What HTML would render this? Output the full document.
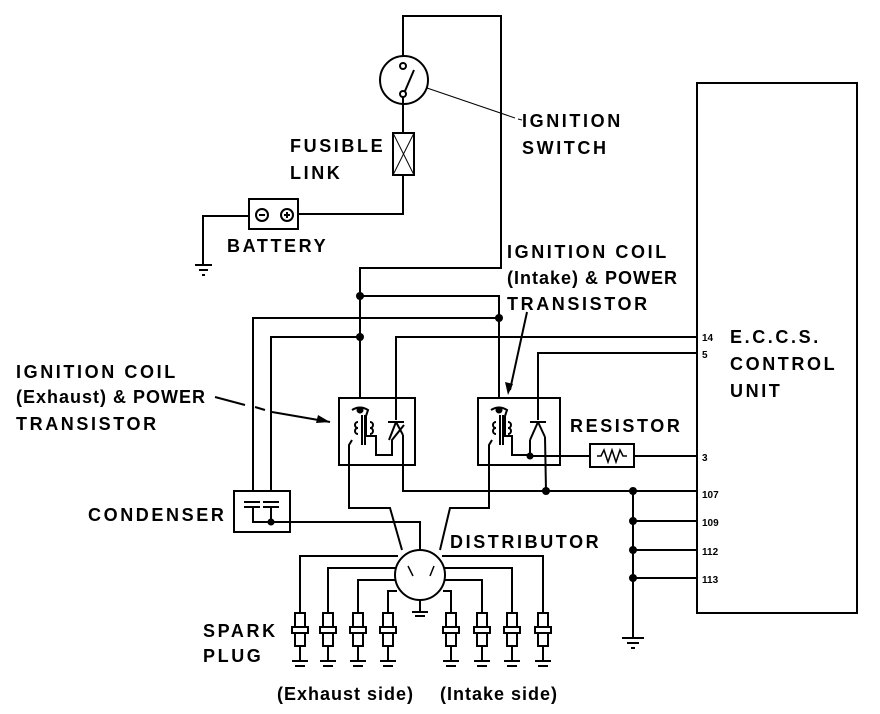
<!DOCTYPE html>
<html><head><meta charset="utf-8"><style>
html,body{margin:0;padding:0;background:#fff;}
svg{display:block}
text{font-family:"Liberation Sans",sans-serif;font-weight:bold;fill:#000;}
.l{font-size:18px;letter-spacing:2.6px}
.m{font-size:18px;letter-spacing:1px}
.s{font-size:10px}
</style></head><body>
<svg width="880" height="714" viewBox="0 0 880 714" xmlns="http://www.w3.org/2000/svg">
<defs>
<g id="p"><rect x="-5" y="0" width="10" height="14"/><rect x="-8" y="14" width="16" height="6"/><rect x="-5" y="20" width="10" height="13"/><polyline points="0,33 0,48"/><line x1="-8" y1="48" x2="8" y2="48"/><line x1="-5" y1="53" x2="5" y2="53"/></g>
</defs>
<g stroke="#000" stroke-width="2" fill="none">
<polyline points="403,56 403,16 501,16 501,268 360,268 360,398"/>
<circle cx="404" cy="80" r="24"/>
<circle cx="403" cy="66" r="3"/><circle cx="403" cy="94" r="3"/>
<line x1="405" y1="91" x2="414" y2="70"/>
<line x1="403" y1="97" x2="403" y2="133"/>
<rect x="393" y="133" width="21" height="42"/>
<line x1="393" y1="133" x2="414" y2="175" stroke-width="1"/><line x1="414" y1="133" x2="393" y2="175" stroke-width="1"/>
<polyline points="403,175 403,214 298,214"/>
<rect x="249" y="199" width="49" height="30"/>
<circle cx="262" cy="215" r="6"/><circle cx="287" cy="215" r="6"/>
<line x1="259" y1="215" x2="265" y2="215"/><line x1="284" y1="215" x2="290" y2="215"/><line x1="287" y1="212" x2="287" y2="218"/>
<polyline points="249,216 203,216 203,265"/>
<line x1="195" y1="265" x2="212" y2="265"/><line x1="199" y1="270" x2="208" y2="270"/><line x1="202" y1="275" x2="205" y2="275"/>
<line x1="427" y1="88" x2="515" y2="118" stroke-width="1"/><line x1="518" y1="119" x2="522" y2="120" stroke-width="1"/>
<polyline points="360,296 499,296 499,398"/>
<polyline points="253,490 253,318 499,318"/>
<polyline points="271,490 271,337 360,337"/>
<polyline points="396,420 396,337 697,337"/>
<polyline points="538,420 538,353 697,353"/>
<rect x="339" y="398" width="76" height="67"/>
<rect x="478" y="398" width="82" height="67"/>
<path d="M352,410 Q360,405 368,410 L366,416 L366,436 L376,436 L376,455 L392,455 L392,440 L404,425"/>
<line x1="362" y1="415" x2="362" y2="445"/><line x1="365" y1="415" x2="365" y2="445"/>
<path d="M358,422 a3,3 0 1,0 0,6 a3,3 0 1,0 0,6" /><path d="M370,422 a3,3 0 1,1 0,6 a3,3 0 1,1 0,6"/>
<line x1="388" y1="422" x2="404" y2="422"/><line x1="396" y1="422" x2="389" y2="440"/><line x1="396" y1="422" x2="403" y2="435"/>
<polyline points="403,435 403,491 697,491"/>
<polyline points="352,440 349,445 349,508 390,508 402,550"/>
<path d="M491,410 Q499,405 507,410 L505,416 L505,436 L512,436 L512,455 L530,455"/>
<line x1="500" y1="415" x2="500" y2="445"/><line x1="503" y1="415" x2="503" y2="445"/>
<path d="M496,422 a3,3 0 1,0 0,6 a3,3 0 1,0 0,6"/><path d="M508,422 a3,3 0 1,1 0,6 a3,3 0 1,1 0,6"/>
<line x1="530" y1="422" x2="546" y2="422"/><line x1="538" y1="422" x2="530" y2="440"/><line x1="538" y1="422" x2="545" y2="437"/>
<polyline points="530,440 530,456 590,456"/>
<polyline points="545,437 546,491"/>
<polyline points="492,440 489,445 489,508 450,508 440,550"/>
<rect x="590" y="444" width="44" height="23"/>
<polyline points="597,456 601,456 604,450 608,462 612,450 616,462 620,450 623,456 627,456" stroke-width="1.5"/>
<line x1="634" y1="456" x2="697" y2="456"/>
<polyline points="633,491 633,638"/>
<line x1="633" y1="521" x2="697" y2="521"/><line x1="633" y1="550" x2="697" y2="550"/><line x1="633" y1="578" x2="697" y2="578"/>
<line x1="622" y1="638" x2="644" y2="638"/><line x1="627" y1="643" x2="639" y2="643"/><line x1="631" y1="648" x2="635" y2="648"/>
<rect x="697" y="83" width="160" height="530"/>
<rect x="234" y="491" width="56" height="41"/>
<line x1="244" y1="502" x2="260" y2="502"/><line x1="244" y1="507" x2="260" y2="507"/>
<line x1="263" y1="502" x2="279" y2="502"/><line x1="263" y1="507" x2="279" y2="507"/>
<polyline points="253,507 253,522 270,522"/><line x1="271" y1="507" x2="271" y2="522"/>
<polyline points="271,522 420,522 420,550"/>
<line x1="215" y1="397" x2="245" y2="405"/><line x1="255" y1="407" x2="265" y2="410"/><line x1="272" y1="412" x2="330" y2="422"/>
<line x1="527" y1="312" x2="510" y2="390"/>
<circle cx="420" cy="575" r="25"/>
<line x1="413" y1="576" x2="408" y2="566" stroke-width="1.5"/><line x1="430" y1="576" x2="434" y2="566" stroke-width="1.5"/>
<polyline points="420,600 420,612"/><line x1="412" y1="612" x2="428" y2="612"/><line x1="415" y1="616" x2="425" y2="616"/>
<polyline points="398,556 300,556 300,613"/>
<polyline points="396,568 328,568 328,613"/>
<polyline points="395,580 358,580 358,613"/>
<polyline points="397,591 388,591 388,613"/>
<polyline points="442,556 543,556 543,613"/>
<polyline points="444,568 512,568 512,613"/>
<polyline points="445,580 482,580 482,613"/>
<polyline points="443,591 451,591 451,613"/>
<use href="#p" transform="translate(300,613)"/><use href="#p" transform="translate(328,613)"/><use href="#p" transform="translate(358,613)"/><use href="#p" transform="translate(388,613)"/>
<use href="#p" transform="translate(451,613)"/><use href="#p" transform="translate(482,613)"/><use href="#p" transform="translate(512,613)"/><use href="#p" transform="translate(543,613)"/>
</g>
<g fill="#000">
<circle cx="360" cy="296" r="4"/><circle cx="499" cy="318" r="4"/><circle cx="360" cy="337" r="4"/>
<circle cx="360" cy="410" r="3.5"/><circle cx="499" cy="410" r="3.5"/><circle cx="530" cy="456" r="3.5"/>
<circle cx="546" cy="491" r="4"/><circle cx="633" cy="491" r="4"/><circle cx="633" cy="521" r="4"/><circle cx="633" cy="550" r="4"/><circle cx="633" cy="578" r="4"/>
<circle cx="271" cy="522" r="3.5"/>
<polygon points="330,422 318,415 316,423"/><polygon points="508,395 505,382 513,384"/>
</g>
<text class="l" x="522" y="127">IGNITION</text>
<text class="l" x="522" y="154">SWITCH</text>
<text class="l" x="290" y="152">FUSIBLE</text>
<text class="l" x="290" y="179">LINK</text>
<text class="l" x="227" y="252">BATTERY</text>
<text class="l" x="507" y="258">IGNITION COIL</text>
<text class="m" x="507" y="284">(Intake) &amp; POWER</text>
<text class="l" x="507" y="310">TRANSISTOR</text>
<text class="l" x="730" y="343">E.C.C.S.</text>
<text class="l" x="730" y="370">CONTROL</text>
<text class="l" x="730" y="397">UNIT</text>
<text class="l" x="16" y="378">IGNITION COIL</text>
<text class="m" x="16" y="403">(Exhaust) &amp; POWER</text>
<text class="l" x="16" y="430">TRANSISTOR</text>
<text class="l" x="570" y="432">RESISTOR</text>
<text class="l" x="88" y="521">CONDENSER</text>
<text class="l" x="450" y="548">DISTRIBUTOR</text>
<text class="l" x="203" y="637">SPARK</text>
<text class="l" x="203" y="662">PLUG</text>
<text class="m" x="277" y="700">(Exhaust side)</text>
<text class="m" x="440" y="700">(Intake side)</text>
<text class="s" x="702" y="341">14</text>
<text class="s" x="702" y="358">5</text>
<text class="s" x="702" y="461">3</text>
<text class="s" x="702" y="498">107</text>
<text class="s" x="702" y="526">109</text>
<text class="s" x="702" y="555">112</text>
<text class="s" x="702" y="583">113</text>
</svg>
</body></html>
